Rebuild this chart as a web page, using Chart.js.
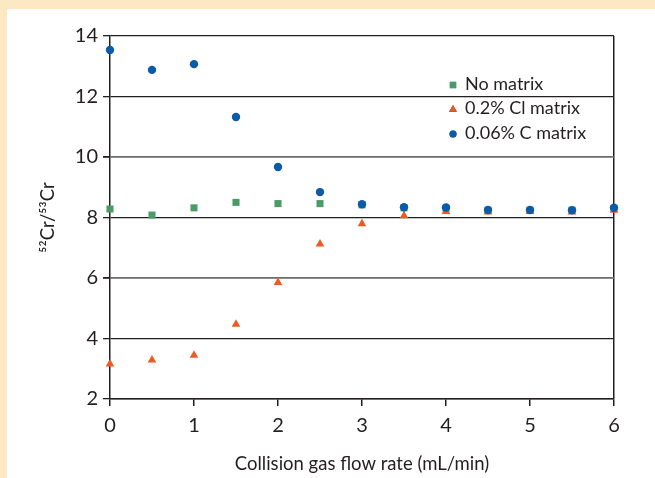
<!DOCTYPE html>
<html>
<head>
<meta charset="utf-8">
<script src="https://cdn.jsdelivr.net/npm/chart.js@4/dist/chart.umd.min.js"></script>
<style>
  html, body { margin: 0; padding: 0; background: #fde8c4; overflow: hidden; }
  #panel { position: absolute; left: 7px; top: 9px; width: 648px; height: 469px; background: #fff; }
  #chart { display: block; }
</style>
</head>
<body>
<div id="panel"><canvas id="chart" width="648" height="469"></canvas></div>
<script>
// 碰撞气流速 (mL/min)
var flowRates = [0, 0.5, 1, 1.5, 2, 2.5, 3, 3.5, 4, 4.5, 5, 5.5, 6];
// 52Cr/53Cr 比值
var noMatrix = [8.28, 8.08, 8.32, 8.50, 8.46, 8.46, 8.42, 8.32, 8.30, 8.24, 8.24, 8.24, 8.30];
var clMatrix = [3.16, 3.29, 3.45, 4.47, 5.85, 7.12, 7.79, 8.06, 8.20, 8.18, 8.20, 8.18, 8.24];
var cMatrix = [13.54, 12.88, 13.07, 11.32, 9.67, 8.84, 8.44, 8.34, 8.33, 8.25, 8.25, 8.24, 8.32];
var seriesNames = ['No matrix', '0.2% Cl matrix', '0.06% C matrix'];

var FONT = 'Lato, "Open Sans", sans-serif';
var INK = '#231f20';

function toPoints(ys) {
    return ys.map(function(y, i) {
        return { x: flowRates[i], y: y };
    });
}

// 图内图例
var innerLegend = {
    id: 'innerLegend',
    afterDatasetsDraw: function(chart) {
        var ctx = chart.ctx;
        var x0 = 446, y0 = 75, step = 24.5;
        ctx.save();
        ctx.font = '18px ' + FONT;
        ctx.textBaseline = 'middle';
        chart.data.datasets.slice().sort(function(a, b) { return b.order - a.order; }).forEach(function(ds, i) {
            var y = y0 + i * step;
            Chart.helpers.drawPoint(ctx, {
                pointStyle: ds.pointStyle,
                radius: ds.legendRadius,
                borderWidth: 0
            }, x0, y + 1);
            ctx.fillStyle = ds.backgroundColor;
            ctx.fill();
            ctx.fillStyle = INK;
            ctx.fillText(ds.label, x0 + 12, y);
        });
        ctx.restore();
    }
};

new Chart(document.getElementById('chart'), {
    type: 'scatter',
    data: {
        datasets: [
            {
                label: seriesNames[2], data: toPoints(cMatrix), order: 1,
                pointStyle: 'circle', pointRadius: 4.2, legendRadius: 3.5,
                backgroundColor: '#0b5ca8', borderWidth: 0, clip: false
            },
            {
                label: seriesNames[1], data: toPoints(clMatrix), order: 2,
                pointStyle: 'triangle', pointRadius: 5, legendRadius: 4.5,
                backgroundColor: '#ee5a24', borderWidth: 0, clip: false
            },
            {
                label: seriesNames[0], data: toPoints(noMatrix), order: 3,
                pointStyle: 'rect', pointRadius: 5, legendRadius: 4.5,
                backgroundColor: '#4c9a68', borderWidth: 0, clip: false
            }
        ]
    },
    options: {
        responsive: false,
        animation: false,
        layout: { padding: { left: 0, top: 27, right: 41, bottom: 0 } },
        plugins: {
            legend: { display: false },
            tooltip: { enabled: false }
        },
        scales: {
            x: {
                min: 0, max: 6,
                afterFit: function(scale) { scale.height = 79; },
                border: { display: true, color: INK, width: 1.5 },
                grid: {
                    drawOnChartArea: true,
                    color: function(c) { return c.tick && c.tick.value === 6 ? INK : 'rgba(0,0,0,0)'; },
                    lineWidth: 1.5,
                    tickLength: 7,
                    tickColor: INK
                },
                ticks: { stepSize: 1, padding: 8, color: INK, font: { family: FONT, size: 20 } },
                title: {
                    display: true, text: 'Collision gas flow rate (mL/min)', color: INK,
                    font: { family: FONT, size: 18.5 }, padding: { top: 4, bottom: 3 }
                }
            },
            y: {
                min: 2, max: 14,
                afterFit: function(scale) { scale.width = 103; },
                border: { display: true, color: INK, width: 1.5 },
                grid: {
                    color: function(c) { return c.tick && (c.tick.value === 6 || c.tick.value === 10) ? '#6d6b6b' : INK; },
                    lineWidth: function(c) { return c.tick && (c.tick.value === 6 || c.tick.value === 10) ? 1.8 : 1.3; },
                    tickLength: 7,
                    tickColor: INK
                },
                ticks: { stepSize: 2, padding: 5, color: INK, font: { family: FONT, size: 20 } },
                title: {
                    display: true, text: '\u2075\u00b2Cr/\u2075\u00b3Cr', color: INK,
                    font: { family: FONT, size: 18.5 }, padding: { top: 30, bottom: 0 }
                }
            }
        }
    },
    plugins: [innerLegend]
});
</script>
</body>
</html>
